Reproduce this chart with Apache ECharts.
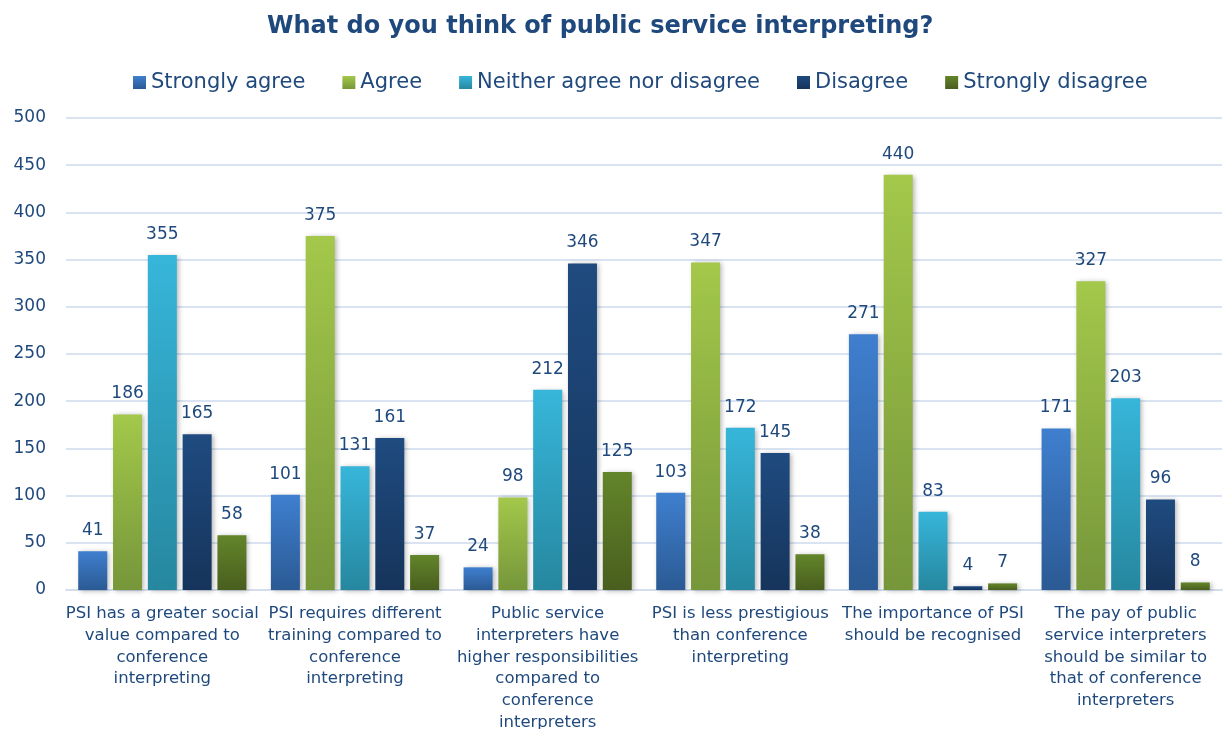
<!DOCTYPE html>
<html>
<head>
<meta charset="utf-8">
<script src="https://cdn.jsdelivr.net/npm/echarts@6/dist/echarts.min.js"></script>
<style>
  html, body { margin: 0; padding: 0; background: #ffffff; overflow: hidden; }
  #chart { width: 1223px; height: 729px; }
</style>
</head>
<body>
<div id="chart"></div>
<script>
// Survey statements (x-axis), wrapped as printed under each group
const categories = [
  'PSI has a greater social\nvalue compared to\nconference\ninterpreting',
  'PSI requires different\ntraining compared to\nconference\ninterpreting',
  'Public service\ninterpreters have\nhigher responsibilities\ncompared to\nconference\ninterpreters',
  'PSI is less prestigious\nthan conference\ninterpreting',
  'The importance of PSI\nshould be recognised',
  'The pay of public\nservice interpreters\nshould be similar to\nthat of conference\ninterpreters'
];

// Response counts per answer option
const stronglyAgree    = [41, 101, 24, 103, 271, 171];
const agree            = [186, 375, 98, 347, 440, 327];
const neither          = [355, 131, 212, 172, 83, 203];
const disagree         = [165, 161, 346, 145, 4, 96];
const stronglyDisagree = [58, 37, 125, 38, 7, 8];

const seriesNames = ['Strongly agree', 'Agree', 'Neither agree nor disagree', 'Disagree', 'Strongly disagree'];
const seriesData = [stronglyAgree, agree, neither, disagree, stronglyDisagree];
const yTicks = { min: 0, max: 500, interval: 50 };

const FONT = '"DejaVu Sans", Tahoma, sans-serif';
const NAVY = '#1F497D';

// top / bottom gradient stops for each series
const gradients = [
  ['#3F7FCF', '#2B5A94'],
  ['#A3C84A', '#76963A'],
  ['#37B6DA', '#26879F'],
  ['#1F4B80', '#16345B'],
  ['#63852A', '#495E1E']
];

function grad(c) {
  return new echarts.graphic.LinearGradient(0, 0, 0, 1, [
    { offset: 0, color: c[0] },
    { offset: 1, color: c[1] }
  ]);
}

const series = seriesNames.map((name, i) => ({
  name: name,
  type: 'bar',
  data: seriesData[i],
  barWidth: 29,
  barGap: '20%',
  itemStyle: {
    color: grad(gradients[i]),
    shadowColor: 'rgba(0,0,0,0.3)',
    shadowBlur: 5,
    shadowOffsetX: 2,
    shadowOffsetY: 1
  },
  label: {
    show: true,
    position: 'top',
    distance: 12,
    color: NAVY,
    fontFamily: FONT,
    fontSize: 17
  }
}));

const chart = echarts.init(document.getElementById('chart'), null, { renderer: 'canvas' });
chart.setOption({
  animation: false,
  backgroundColor: '#ffffff',
  title: {
    text: 'What do you think of public service interpreting?',
    left: 262,
    top: 10,
    textStyle: { color: NAVY, fontFamily: FONT, fontSize: 24, fontWeight: 'bold' }
  },
  legend: {
    top: 67,
    left: 128,
    itemWidth: 13,
    itemHeight: 13,
    itemGap: 37,
    icon: 'rect',
    textStyle: { color: NAVY, fontFamily: FONT, fontSize: 21 },
    data: seriesNames.map((n, i) => ({ name: n, itemStyle: { color: grad(gradients[i]) } }))
  },
  grid: { left: 66, right: 1, top: 118, bottom: 139, containLabel: false, outerBoundsMode: 'none' },
  xAxis: {
    type: 'category',
    data: categories,
    axisTick: { show: false },
    axisLine: { lineStyle: { color: '#D4DEEE', width: 2 } },
    axisLabel: {
      interval: 0,
      color: NAVY,
      fontFamily: FONT,
      fontSize: 16.5,
      lineHeight: 21.7,
      margin: 13
    }
  },
  yAxis: {
    type: 'value',
    min: yTicks.min,
    max: yTicks.max,
    interval: yTicks.interval,
    axisLine: { show: false },
    axisTick: { show: false },
    axisLabel: { color: NAVY, fontFamily: FONT, fontSize: 17, margin: 20 },
    splitLine: { lineStyle: { color: '#D9E3F1', width: 2 } }
  },
  series: series
});
</script>
</body>
</html>
